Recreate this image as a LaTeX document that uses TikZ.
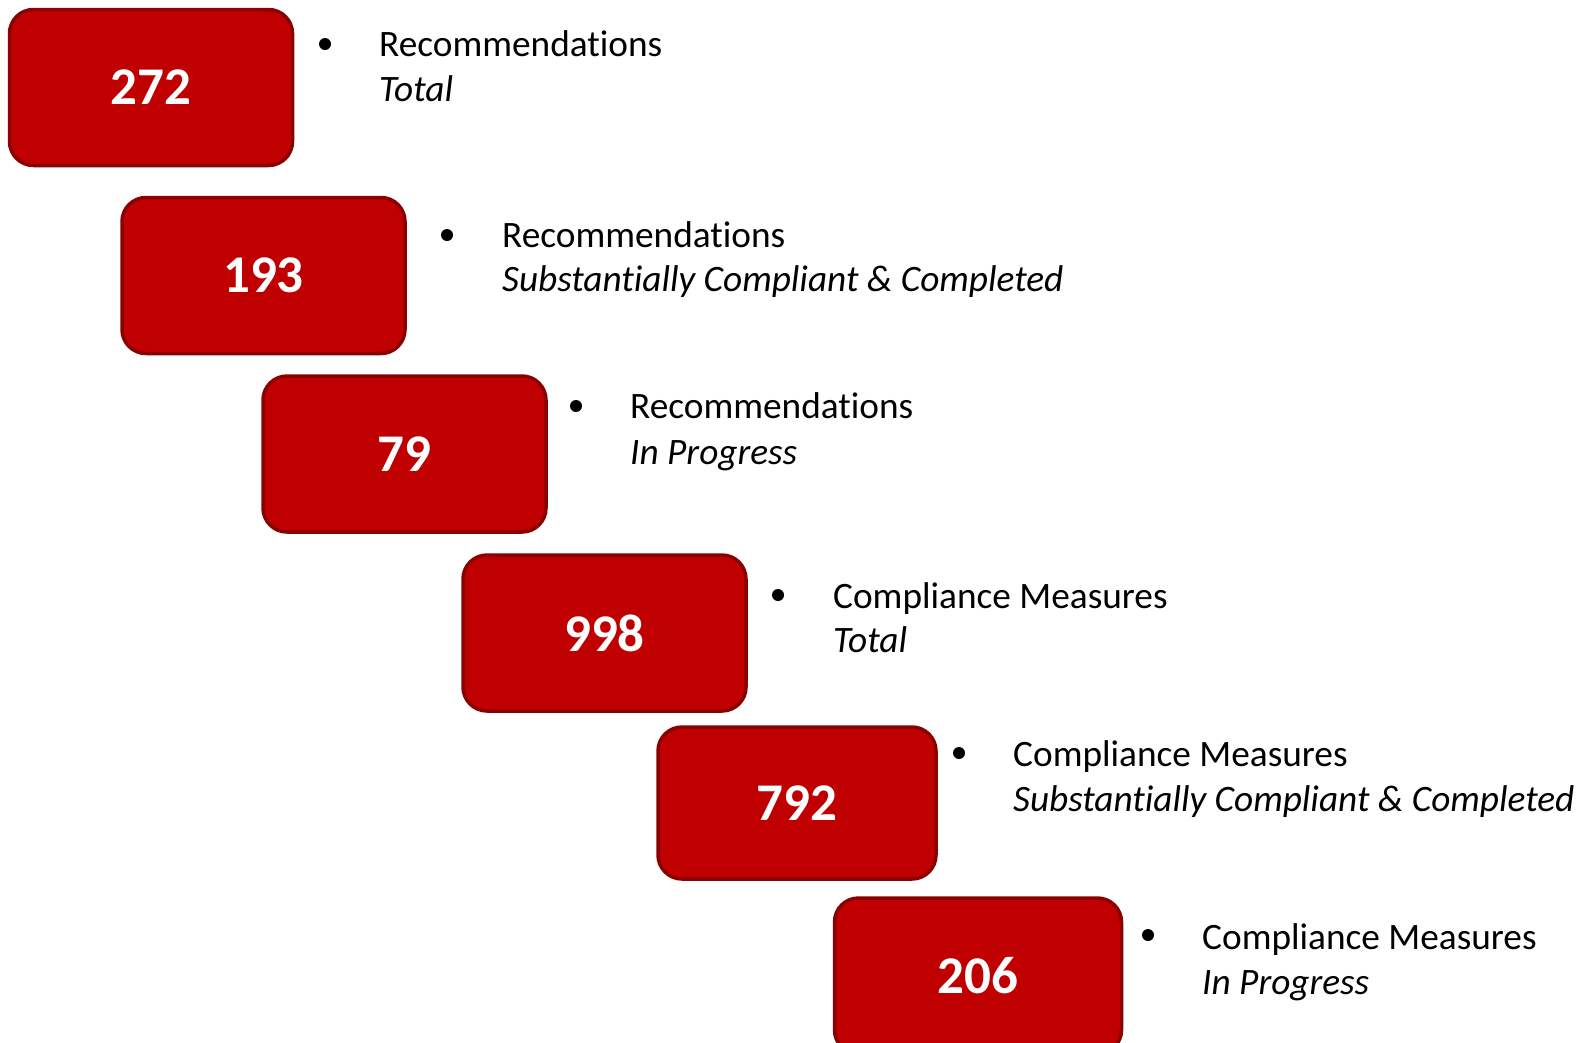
\documentclass[tikz,border=0pt]{standalone}
\usepackage{fontspec}
\setmainfont[Ligatures=NoCommon]{Carlito}
\definecolor{boxfill}{HTML}{C00000}
\definecolor{boxedge}{HTML}{8B0000}
\begin{document}
\begin{tikzpicture}[x=1pt,y=-1pt,
  numbox/.style={draw=boxedge, fill=boxfill, line width=3.5pt, rounded corners=24pt,
    minimum width=283pt, minimum height=156pt, inner sep=0pt,
    text=white, font=\fontsize{53}{60}\selectfont\bfseries},
  lineone/.style={anchor=base west, inner sep=0pt, font=\fontsize{37.3}{44}\selectfont},
  linetwo/.style={anchor=base west, inner sep=0pt, font=\fontsize{37.3}{44}\selectfont\itshape},
  dotmark/.style={circle, fill=black, inner sep=0pt, minimum size=12pt}]
\useasboundingbox (0,0) rectangle (1593,1042);
\begin{scope}
\clip (0,0) rectangle (1593,1042);
\node[numbox] (b1) at (151,87.5) {272};
\node[numbox] (b2) at (263.5,275.5) {193};
\node[numbox] (b3) at (404.5,454) {79};
\node[numbox] (b4) at (604.5,633) {998};
\node[numbox, minimum width=278pt, minimum height=152pt] (b5) at (797,803) {792};
\node[numbox, minimum width=287pt] (b6) at (978,976) {206};
\end{scope}

\node[dotmark] (d1) at (325,44) {};
\node[lineone] (t1a) at (379,56) {Recommendations};
\node[linetwo] (t1b) at (379,101) {Total};

\node[dotmark] (d2) at (447,235) {};
\node[lineone] (t2a) at (502,247) {Recommendations};
\node[linetwo] (t2b) at (502,291) {Substantially Compliant \& Completed};

\node[dotmark] (d3) at (576,406) {};
\node[lineone] (t3a) at (630,418) {Recommendations};
\node[linetwo] (t3b) at (630,464) {In Progress};

\node[dotmark] (d4) at (778,595) {};
\node[lineone] (t4a) at (833,608) {Compliance Measures};
\node[linetwo] (t4b) at (833,652) {Total};

\node[dotmark] (d5) at (959,753) {};
\node[lineone] (t5a) at (1013,766) {Compliance Measures};
\node[linetwo] (t5b) at (1013,811) {Substantially Compliant \& Completed};

\node[dotmark] (d6) at (1148,935) {};
\node[lineone] (t6a) at (1202,949) {Compliance Measures};
\node[linetwo] (t6b) at (1202,994) {In Progress};
\end{tikzpicture}
\end{document}
